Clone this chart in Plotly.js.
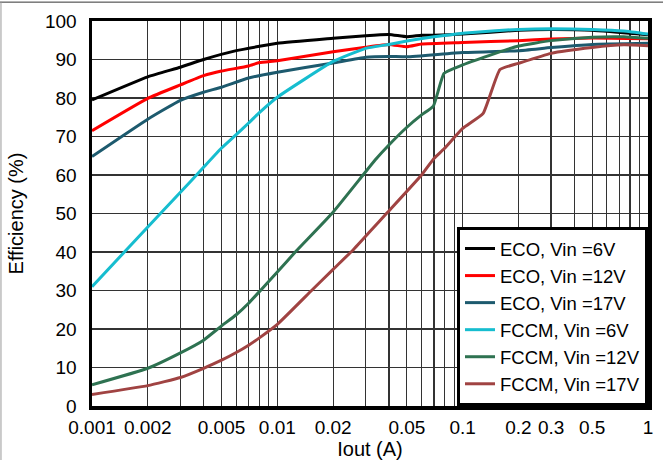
<!DOCTYPE html>
<html>
<head>
<meta charset="utf-8">
<script src="https://cdn.plot.ly/plotly-3.0.1.min.js"></script>
<style>html,body{margin:0;padding:0;background:#fff;}#chart{width:663px;height:460px;}</style>
</head>
<body>
<div id="chart"></div>
<script>
// ---- data ----
var seriesNames = ["ECO, Vin =6V", "ECO, Vin =12V", "ECO, Vin =17V", "FCCM, Vin =6V", "FCCM, Vin =12V", "FCCM, Vin =17V"];

var eco6X = [0.001, 0.002, 0.003, 0.004, 0.006, 0.01, 0.02, 0.03, 0.04, 0.05, 0.06, 0.07, 0.1, 0.2, 0.3, 0.5, 1];
var eco6Y = [79.5, 85.5, 88, 90, 92.3, 94.2, 95.5, 96.2, 96.5, 95.9, 96.3, 96.3, 96.6, 97.6, 97.8, 97.6, 96.4];

var eco12X = [0.001, 0.002, 0.003, 0.004, 0.005, 0.007, 0.008, 0.01, 0.02, 0.03, 0.04, 0.05, 0.06, 0.1, 0.2, 0.3, 0.5, 1];
var eco12Y = [71.5, 79.9, 83.4, 85.8, 87, 88.3, 89.2, 89.7, 92, 93.2, 93.9, 93.3, 94, 94.4, 94.9, 95.3, 95.6, 95.4];

var eco17X = [0.001, 0.002, 0.003, 0.004, 0.005, 0.007, 0.01, 0.02, 0.03, 0.04, 0.05, 0.1, 0.2, 0.3, 0.5, 1];
var eco17Y = [64.8, 74.5, 79.4, 81.5, 82.8, 85.2, 86.7, 89.1, 90.6, 90.8, 90.7, 91.8, 92.3, 93.1, 93.9, 94.2];

var fccm6X = [0.001, 0.002, 0.003, 0.004, 0.005, 0.006, 0.007, 0.008, 0.01, 0.02, 0.03, 0.04, 0.05, 0.07, 0.1, 0.15, 0.2, 0.3, 0.5, 0.74, 1];
var fccm6Y = [31, 46.5, 55.5, 62, 67, 70.5, 73.5, 76.2, 80.2, 89.5, 92.9, 93.9, 94.8, 95.9, 96.8, 97.5, 97.8, 98, 97.8, 97.4, 96.6];

var fccm12X = [0.001, 0.002, 0.003, 0.004, 0.005, 0.006, 0.007, 0.008, 0.01, 0.0125, 0.0197, 0.029, 0.0337, 0.04, 0.05, 0.06, 0.0695, 0.0794, 0.1, 0.15, 0.2, 0.3, 0.5, 0.74, 1];
var fccm12Y = [5.5, 9.8, 13.8, 17.1, 20.8, 23.7, 26.7, 29.7, 34.8, 40, 50, 60, 63.9, 67.8, 72.4, 75.6, 77.9, 86.4, 88.6, 91.6, 93.5, 94.9, 95.8, 95.9, 95.5];

var fccm17X = [0.001, 0.002, 0.003, 0.004, 0.005, 0.006, 0.007, 0.008, 0.01, 0.0153, 0.02, 0.0257, 0.0316, 0.039, 0.06, 0.07, 0.0794, 0.1, 0.129, 0.159, 0.2, 0.3, 0.5, 0.74, 1];
var fccm17Y = [3, 5.3, 7.4, 9.8, 11.9, 13.9, 15.8, 17.7, 21.2, 30, 35.5, 40.6, 45.3, 50.1, 60, 64.3, 66.8, 72.1, 76, 87.4, 89, 91.6, 93.1, 93.8, 93.6];

var xTickVals = [0.001,0.002,0.003,0.004,0.005,0.006,0.007,0.008,0.009,
                 0.01,0.02,0.03,0.04,0.05,0.06,0.07,0.08,0.09,
                 0.1,0.2,0.3,0.4,0.5,0.6,0.7,0.8,0.9,1];
var xTickText = ["0.001","0.002","","","0.005","","","","",
                 "0.01","0.02","","","0.05","","","","",
                 "0.1","0.2","0.3","","0.5","","","","","1"];
var yTickVals = [0,10,20,30,40,50,60,70,80,90,100];

var colors = ["#000000", "#ff0000", "#1d5a6e", "#16bdcf", "#2e7251", "#a04342"];

// ---- build traces ----
var xs = [eco6X, eco12X, eco17X, fccm6X, fccm12X, fccm17X];
var ys = [eco6Y, eco12Y, eco17Y, fccm6Y, fccm12Y, fccm17Y];
var traces = [];
for (var i = 0; i < xs.length; i++) {
  traces.push({
    x: xs[i], y: ys[i], name: seriesNames[i], type: "scatter", mode: "lines",
    line: {color: colors[i], width: 3, shape: "spline", smoothing: 0.4}
  });
}

var font = "Liberation Sans, Arial, sans-serif";
var layout = {
  width: 663, height: 460,
  margin: {l: 92, r: 15, t: 21, b: 54, pad: 0},
  paper_bgcolor: "#fff", plot_bgcolor: "#fff",
  font: {family: font, size: 19, color: "#000"},
  showlegend: true,
  legend: {
    x: 1, y: 0, xanchor: "right", yanchor: "bottom",
    bgcolor: "#fff", bordercolor: "#000", borderwidth: 3,
    font: {family: font, size: 18.5, color: "#000"},
    tracegroupgap: 0
  },
  xaxis: {
    type: "log", range: [-3, 0],
    tickmode: "array", tickvals: xTickVals, ticktext: xTickText,
    showgrid: true, gridcolor: "#333", gridwidth: 1.2,
    showline: true, linecolor: "#000", linewidth: 3.5, mirror: true,
    ticks: "", ticklabelstandoff: 2,
    tickfont: {family: font, size: 19, color: "#000"},
    zeroline: false,
    title: {text: "Iout (A)", font: {family: font, size: 20, color: "#000"}, standoff: 4}
  },
  yaxis: {
    range: [0, 100],
    tickmode: "array", tickvals: yTickVals,
    showgrid: true, gridcolor: "#333", gridwidth: 1.2,
    showline: true, linecolor: "#000", linewidth: 3.5, mirror: true,
    ticks: "", ticklabelstandoff: 8,
    tickfont: {family: font, size: 19, color: "#000"},
    zeroline: false,
    title: {text: "Efficiency (%)", font: {family: font, size: 20, color: "#000"}, standoff: 17}
  },
  shapes: [
    {type: "line", xref: "paper", yref: "paper", x0: -0.17, x1: 1.03, y0: 1.049, y1: 1.049, line: {color: "#333", width: 1}},
    {type: "line", xref: "paper", yref: "paper", x0: -0.1637, x1: -0.1637, y0: -0.15, y1: 1.05, line: {color: "#999", width: 1}}
  ]
};

Plotly.newPlot("chart", traces, layout, {displayModeBar: false, staticPlot: true});
</script>
</body>
</html>
